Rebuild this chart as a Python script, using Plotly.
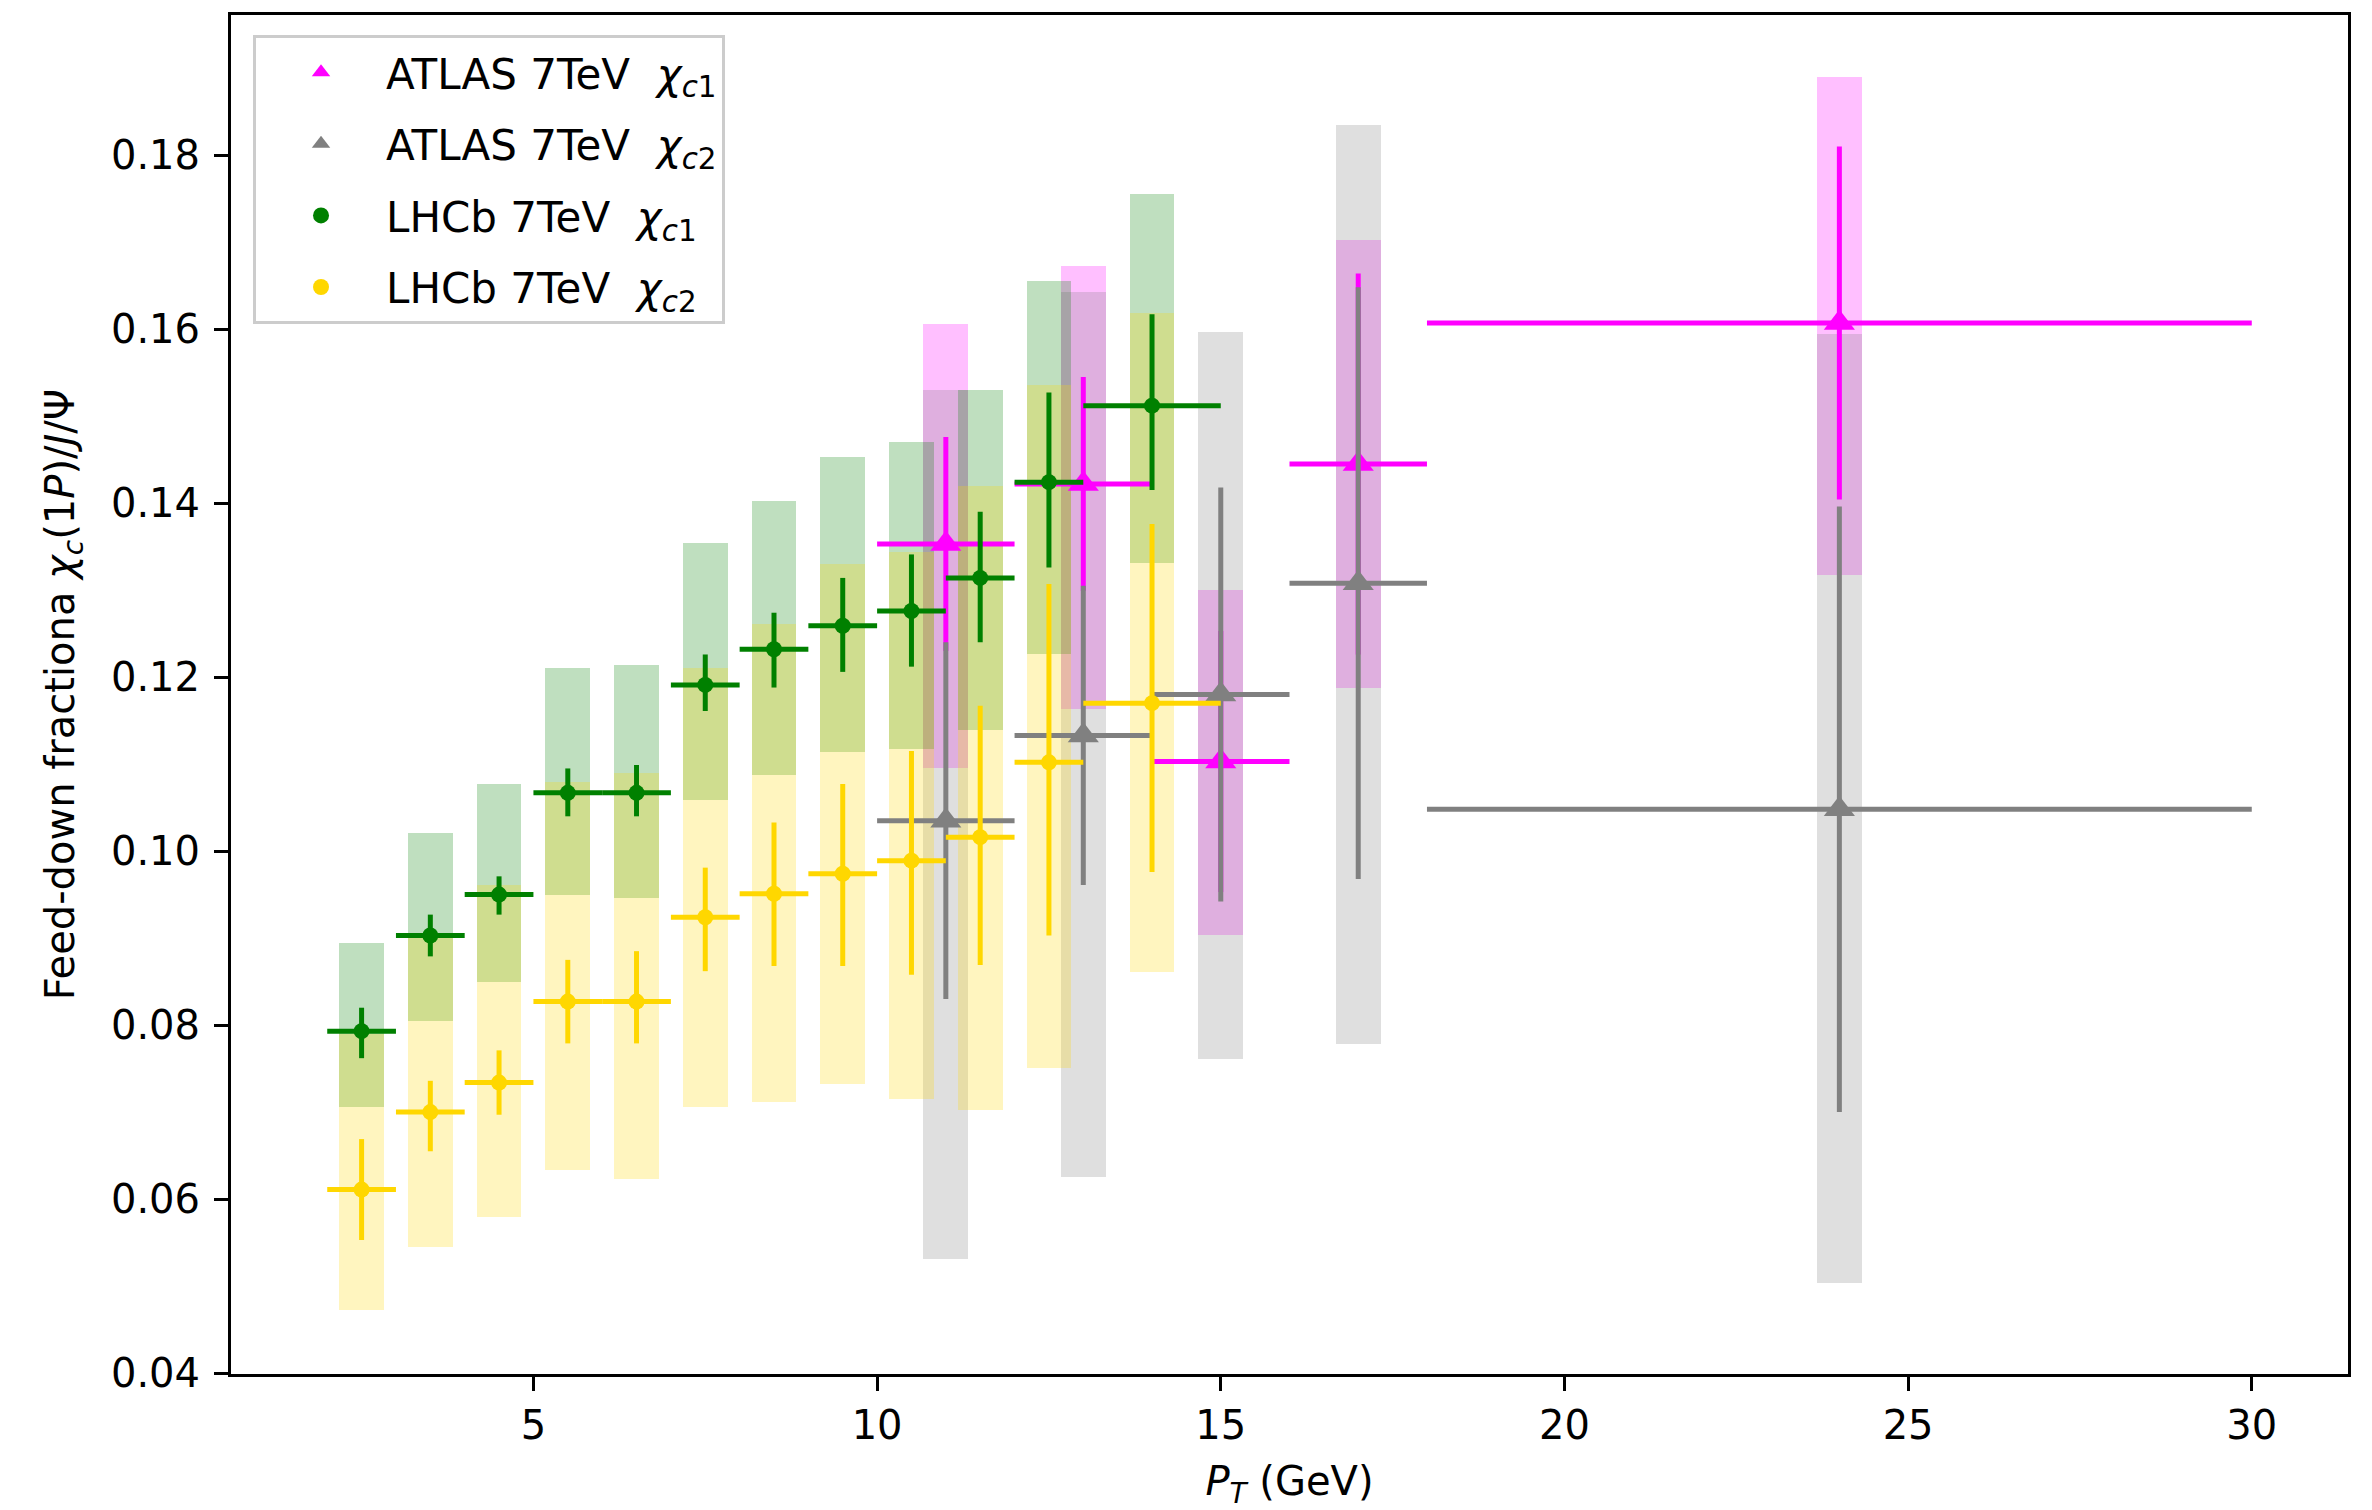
import plotly.graph_objects as go

# ---------------- data ----------------
# LHCb 7 TeV chi_c1
lhcb_x = [2.5, 3.5, 4.5, 5.5, 6.5, 7.5, 8.5, 9.5, 10.5, 11.5, 12.5, 14.0]
lhcb_xerr = [0.5, 0.5, 0.5, 0.5, 0.5, 0.5, 0.5, 0.5, 0.5, 0.5, 0.5, 1.0]

lhcb_c1_y = [0.0793, 0.0903, 0.0950, 0.1067, 0.1067, 0.1191, 0.1232, 0.1259, 0.1276, 0.1314, 0.1424, 0.1512]
lhcb_c1_eup = [0.0027, 0.0024, 0.0021, 0.0028, 0.0032, 0.0035, 0.0042, 0.0055, 0.0065, 0.0076, 0.0103, 0.0105]
lhcb_c1_edn = [0.0031, 0.0024, 0.0023, 0.0027, 0.0027, 0.0030, 0.0044, 0.0053, 0.0064, 0.0074, 0.0098, 0.0097]
lhcb_c1_box_lo = [0.0706, 0.0805, 0.0849, 0.0949, 0.0946, 0.1059, 0.1087, 0.1114, 0.1117, 0.1139, 0.1226, 0.1331]
lhcb_c1_box_hi = [0.0894, 0.1021, 0.1077, 0.1210, 0.1214, 0.1354, 0.1402, 0.1453, 0.1470, 0.1530, 0.1655, 0.1755]

# LHCb 7 TeV chi_c2
lhcb_c2_y = [0.0611, 0.0700, 0.0734, 0.0827, 0.0827, 0.0924, 0.0951, 0.0974, 0.0989, 0.1016, 0.1102, 0.1170]
lhcb_c2_eup = [0.0058, 0.0036, 0.0037, 0.0048, 0.0058, 0.0057, 0.0082, 0.0103, 0.0126, 0.0151, 0.0205, 0.0206]
lhcb_c2_edn = [0.0058, 0.0045, 0.0037, 0.0048, 0.0048, 0.0062, 0.0083, 0.0106, 0.0131, 0.0147, 0.0199, 0.0194]
lhcb_c2_box_lo = [0.0472, 0.0545, 0.0579, 0.0634, 0.0623, 0.0706, 0.0712, 0.0732, 0.0715, 0.0703, 0.0751, 0.0861]
lhcb_c2_box_hi = [0.0790, 0.0902, 0.0961, 0.1079, 0.1090, 0.1210, 0.1261, 0.1330, 0.1344, 0.1420, 0.1536, 0.1619]

# ATLAS 7 TeV
atlas_x = [11.0, 13.0, 15.0, 17.0, 24.0]
atlas_xerr = [1.0, 1.0, 1.0, 1.0, 6.0]

atlas_c1_y = [0.1353, 0.1422, 0.1103, 0.1445, 0.1607]
atlas_c1_err = [0.0123, 0.0123, 0.0150, 0.0219, 0.0203]
atlas_c1_box_lo = [0.1096, 0.1163, 0.0904, 0.1188, 0.1317]
atlas_c1_box_hi = [0.1606, 0.1672, 0.1300, 0.1702, 0.1890]

atlas_c2_y = [0.1035, 0.1133, 0.1180, 0.1308, 0.1048]
atlas_c2_err = [0.0205, 0.0172, 0.0238, 0.0340, 0.0348]
atlas_c2_box_lo = [0.0531, 0.0625, 0.0761, 0.0778, 0.0504]
atlas_c2_box_hi = [0.1530, 0.1643, 0.1597, 0.1835, 0.1594]

x_ticks = [5, 10, 15, 20, 25, 30]
y_ticks = [0.04, 0.06, 0.08, 0.10, 0.12, 0.14, 0.16, 0.18]

# ---------------- style ----------------
FONT = "DejaVu Sans"
FS = 40
BOX_W = 0.65
LW = 5

c_mag = "#ff00ff"
c_gray = "#808080"
c_green = "#008000"
c_gold = "#ffd700"

fig = go.Figure()


def add_box(x, lo, hi, rgba):
    fig.add_trace(go.Bar(
        x=x, base=lo, y=[h - l for h, l in zip(hi, lo)], width=[BOX_W] * len(x),
        marker=dict(color=rgba, line=dict(width=0)), showlegend=False, hoverinfo="skip"))


add_box(atlas_x, atlas_c1_box_lo, atlas_c1_box_hi, "rgba(255,0,255,0.25)")
add_box(atlas_x, atlas_c2_box_lo, atlas_c2_box_hi, "rgba(128,128,128,0.25)")
add_box(lhcb_x, lhcb_c1_box_lo, lhcb_c1_box_hi, "rgba(0,128,0,0.25)")
add_box(lhcb_x, lhcb_c2_box_lo, lhcb_c2_box_hi, "rgba(255,215,0,0.25)")


def add_pts(x, xe, y, eup, edn, color, symbol, size, name, grp):
    fig.add_trace(go.Scatter(
        x=x, y=y, mode="markers", name=name, legendgroup=grp,
        marker=dict(color=color, symbol=symbol, size=size, line=dict(width=0)),
        error_x=dict(type="data", array=xe, arrayminus=xe, color=color, thickness=LW, width=0),
        error_y=dict(type="data", array=eup, arrayminus=edn, color=color, thickness=LW, width=0),
    ))


sp = "\u00a0\u00a0"
add_pts(atlas_x, atlas_xerr, atlas_c1_y, atlas_c1_err, atlas_c1_err, c_mag, "triangle-up", 27,
        "ATLAS 7TeV" + sp + "<i>χ</i><sub><i>c</i>1</sub>", "g1")
add_pts(atlas_x, atlas_xerr, atlas_c2_y, atlas_c2_err, atlas_c2_err, c_gray, "triangle-up", 27,
        "ATLAS 7TeV" + sp + "<i>χ</i><sub><i>c</i>2</sub>", "g2")
add_pts(lhcb_x, lhcb_xerr, lhcb_c1_y, lhcb_c1_eup, lhcb_c1_edn, c_green, "circle", 16,
        "LHCb 7TeV" + sp + "<i>χ</i><sub><i>c</i>1</sub>", "g3")
add_pts(lhcb_x, lhcb_xerr, lhcb_c2_y, lhcb_c2_eup, lhcb_c2_edn, c_gold, "circle", 16,
        "LHCb 7TeV" + sp + "<i>χ</i><sub><i>c</i>2</sub>", "g4")

axis_common = dict(
    showline=True, linecolor="black", linewidth=3, mirror=True,
    ticks="outside", ticklen=14, tickwidth=3, tickcolor="black",
    showgrid=False, zeroline=False,
    tickfont=dict(family=FONT, size=FS, color="black"),
)

fig.update_layout(
    width=2372, height=1510,
    margin=dict(l=231, r=24, t=15, b=133),
    paper_bgcolor="white", plot_bgcolor="white",
    barmode="overlay", bargap=0,
    font=dict(family=FONT, size=FS, color="black"),
    xaxis=dict(range=[0.6, 31.4], tickvals=x_ticks,
               title=dict(text="<i>P</i><sub><i>T</i></sub> (GeV)", font=dict(family=FONT, size=FS), standoff=22),
               **axis_common),
    yaxis=dict(range=[0.0399, 0.1961], tickvals=y_ticks, tickformat=".2f", ticklabelstandoff=6,
               title=dict(text="Feed-down fractiona <i>χ</i><sub><i>c</i></sub>(1<i>P</i>)/<i>J</i>/Ψ",
                          font=dict(family=FONT, size=FS), standoff=24),
               **axis_common),
    legend=dict(x=0.0104, y=0.985, xanchor="left", yanchor="top",
                bgcolor="rgba(255,255,255,0.8)", bordercolor="#cccccc", borderwidth=3,
                font=dict(family=FONT, size=42, color="black"),
                tracegroupgap=14, itemwidth=120),
)

fig.write_html("out.html")
